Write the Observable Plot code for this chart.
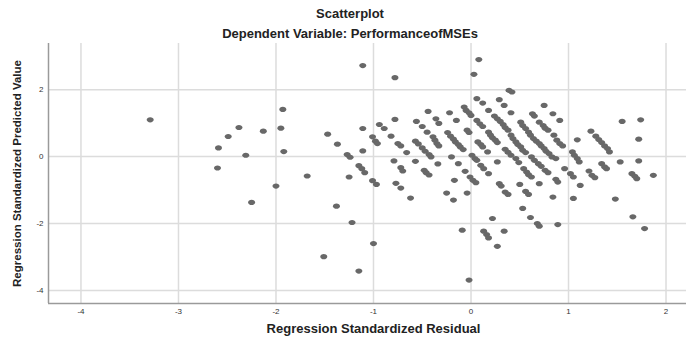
<!DOCTYPE html>
<html>
<head>
<meta charset="utf-8">
<script src="https://cdn.jsdelivr.net/npm/d3@7"></script>
<script src="https://cdn.jsdelivr.net/npm/@observablehq/plot@0.6"></script>
<style>
  html, body { margin: 0; padding: 0; background: #fff; }
  #wrap { width: 686px; height: 343px; position: relative; font-family: "Liberation Sans", Arial, sans-serif; }
  #head { position: relative; width: 686px; height: 43px; }
  .t { position: absolute; left: 0; width: 700px; text-align: center; font-weight: bold; font-size: 13px; color: #222; white-space: nowrap; }
  svg { display: block; overflow: visible; }
</style>
</head>
<body>
<div id="wrap">
  <div id="head">
    <div class="t" style="top:6px">Scatterplot</div>
    <div class="t" style="top:26px">Dependent Variable: PerformanceofMSEs</div>
  </div>
  <div id="chart"></div>
</div>
<script>
// Regression Standardized Residual (x) and Regression Standardized Predicted Value (y)
const residual = [
  -3.29,-2.59,-2.60,-2.49,-2.38,-2.31,-2.25,-2.13,-2.00,-1.95,-1.93,-1.92,
  -1.68,-1.51,-1.47,-1.38,-1.37,-1.27,-1.24,-1.25,-1.22,-1.15,-1.12,-1.09,-1.15,
  -1.11,-1.11,-1.11,-1.01,-0.98,-0.96,-1.01,-0.97,-1.00,-0.94,-0.89,-0.82,-0.78,-0.78,
  -0.75,-0.72,-0.66,-0.79,-0.72,-0.70,-0.77,-0.72,-0.62,-0.57,-0.56,-0.50,-0.44,-0.45,
  -0.57,-0.54,-0.50,-0.47,-0.43,-0.41,-0.48,-0.46,-0.43,-0.36,-0.33,-0.39,-0.37,-0.35,-0.33,-0.34,
  0.08,0.03,-0.22,-0.15,
  -0.24,-0.21,-0.18,-0.16,-0.13,-0.11,-0.08,
  -0.20,-0.13,-0.17,-0.06,-0.01,0.02,0.05,-0.25,-0.18,-0.04,
  -0.07,-0.05,-0.02,0.00,-0.04,-0.02,0.01,0.04,0.06,
  0.06,0.12,0.06,0.09,0.12,0.07,0.10,0.12,0.17,0.10,0.13,0.18,0.18,
  0.24,0.27,0.30,0.33,0.35,0.38,
  0.18,0.20,0.22,0.25,0.27,
  0.29,0.34,0.39,0.42,0.27,0.29,0.31,0.35,0.38,0.35,0.38,0.41,
  0.22,-0.09,0.13,0.16,0.18,0.27,0.34,-0.02,
  0.41,0.51,0.53,0.56,0.59,0.61,
  0.41,0.43,0.46,0.48,0.51,0.53,0.56,
  0.46,0.49,0.54,0.57,0.59,0.62,0.50,0.56,0.59,0.53,0.61,0.68,0.70,0.89,
  0.63,0.65,0.75,0.70,0.74,0.76,0.79,0.84,0.91,
  0.64,0.67,0.70,0.72,0.75,0.77,0.80,0.83,0.87,
  0.62,0.65,0.69,0.72,0.76,0.79,0.87,0.89,0.70,0.84,
  0.85,0.88,0.91,0.94,0.96,1.05,1.09,
  1.04,1.06,1.09,1.11,1.02,1.05,1.12,
  1.23,1.28,1.31,1.34,1.37,1.40,1.42,
  1.21,1.24,1.27,1.34,1.37,1.39,1.48,1.55,1.53,1.74,1.72,1.72,
  1.65,1.68,1.70,1.87,1.66,1.78
];
const predicted = [
  1.10,0.26,-0.34,0.60,0.87,0.04,-1.37,0.76,-0.88,0.85,1.41,0.15,
  -0.58,-2.99,0.67,-1.48,0.37,0.06,-0.02,-0.61,-1.97,-0.27,-0.36,-0.48,-3.42,
  2.72,0.84,0.17,0.59,0.46,0.39,-0.72,-0.83,-2.60,0.96,0.84,0.61,2.36,1.11,
  0.39,0.32,0.12,-0.13,-0.33,-0.43,-0.80,-0.94,-1.24,-0.14,1.05,0.90,1.35,0.73,
  0.46,0.38,0.26,0.16,0.06,-0.01,-0.41,-0.48,-0.55,1.13,0.99,0.59,0.49,0.39,0.32,-0.22,
  2.90,2.46,1.31,1.08,
  0.72,0.61,0.52,0.44,0.36,0.29,0.21,
  -0.01,-0.21,-0.71,-0.44,-0.61,-0.71,-0.78,-1.09,-1.30,-1.09,
  1.48,1.38,1.31,1.23,0.79,0.72,0.04,-0.06,-0.11,
  1.73,1.60,1.08,0.98,0.90,0.44,0.36,0.29,0.14,-0.26,-0.36,-0.51,1.38,
  1.21,1.13,1.05,0.96,0.87,0.79,
  0.73,0.64,0.56,0.49,0.42,
  1.70,1.53,1.98,1.93,-0.16,-0.81,-0.88,-1.06,-1.13,0.22,0.13,0.04,
  -1.85,-2.20,-2.23,-2.33,-2.43,-2.68,-2.23,-3.69,
  1.31,1.03,0.93,0.84,0.73,0.64,
  0.64,0.54,0.44,0.36,0.29,0.19,0.12,
  -0.06,-0.18,-0.36,-0.46,-0.54,-0.61,-0.83,-1.04,-1.13,-1.55,-1.82,-2.00,-2.08,-2.03,
  1.28,1.21,1.53,1.03,0.93,0.85,0.79,1.28,1.08,
  0.54,0.46,0.39,0.32,0.24,0.16,0.09,-0.01,-0.06,
  -0.01,-0.11,-0.21,-0.29,-0.41,-0.48,-0.68,-0.76,-0.81,-1.21,
  0.64,0.49,0.39,0.32,-0.36,-1.25,0.50,
  0.14,0.04,-0.06,-0.16,-0.51,-0.61,-0.86,
  0.76,0.61,0.51,0.42,0.32,0.24,0.14,
  -0.43,-0.56,-0.63,-0.21,-0.31,-0.36,-1.27,1.05,-0.16,1.10,0.52,-0.13,
  -0.51,-0.59,-0.66,-0.56,-1.80,-2.15
];
const xTicks = [-4, -3, -2, -1, 0, 1, 2];
const yTicks = [-4, -2, 0, 2];
const xDomain = [-4.333, 2.21];
const yDomain = [-4.39, 3.38];

const points = residual.map((r, i) => ({residual: r, predicted: predicted[i]}));

// horizontally elongated marker, like the original
const ellipse = {
  draw(context) {
    const rx = 3.5, ry = 2.6, k = 0.5523;
    context.moveTo(rx, 0);
    context.bezierCurveTo(rx, ry * k, rx * k, ry, 0, ry);
    context.bezierCurveTo(-rx * k, ry, -rx, ry * k, -rx, 0);
    context.bezierCurveTo(-rx, -ry * k, -rx * k, -ry, 0, -ry);
    context.bezierCurveTo(rx * k, -ry, rx, -ry * k, rx, 0);
    context.closePath();
  }
};

const font = "'Liberation Sans', Arial, sans-serif";

const chart = Plot.plot({
  width: 686,
  height: 300,
  marginTop: 0,
  marginBottom: 40,
  marginLeft: 48,
  marginRight: 0,
  style: {fontFamily: font, background: "#fff", color: "#333", overflow: "visible"},
  x: {domain: xDomain},
  y: {domain: yDomain},
  marks: [
    Plot.gridX(xTicks, {stroke: "#dcdcdc", strokeOpacity: 1, strokeWidth: 1.5}),
    Plot.gridY(yTicks, {stroke: "#dcdcdc", strokeOpacity: 1, strokeWidth: 1.5}),
    Plot.ruleX([xDomain[0]], {stroke: "#9a9a9a", strokeWidth: 1.5}),
    Plot.ruleY([yDomain[0]], {stroke: "#9a9a9a", strokeWidth: 1.5}),
    Plot.axisX(xTicks, {tickSize: 0, tickPadding: 5, fontSize: 8, label: null, tickFormat: d => String(d)}),
    Plot.axisY(yTicks, {tickSize: 0, tickPadding: 5, fontSize: 8, label: null, tickFormat: d => String(d)}),
    Plot.dot(points, {x: "residual", y: "predicted", symbol: ellipse, fill: "#686868", stroke: "none"}),
    Plot.text(["Regression Standardized Residual"], {frameAnchor: "bottom", dx: 6, dy: 29, fontSize: 13, fontWeight: "bold", fill: "#222"}),
    Plot.text(["Regression Standardized Predicted Value"], {frameAnchor: "left", textAnchor: "middle", dx: -31, rotate: -90, fontSize: 11.5, fontWeight: "bold", fill: "#222"})
  ]
});
document.getElementById("chart").appendChild(chart);
</script>
</body>
</html>
